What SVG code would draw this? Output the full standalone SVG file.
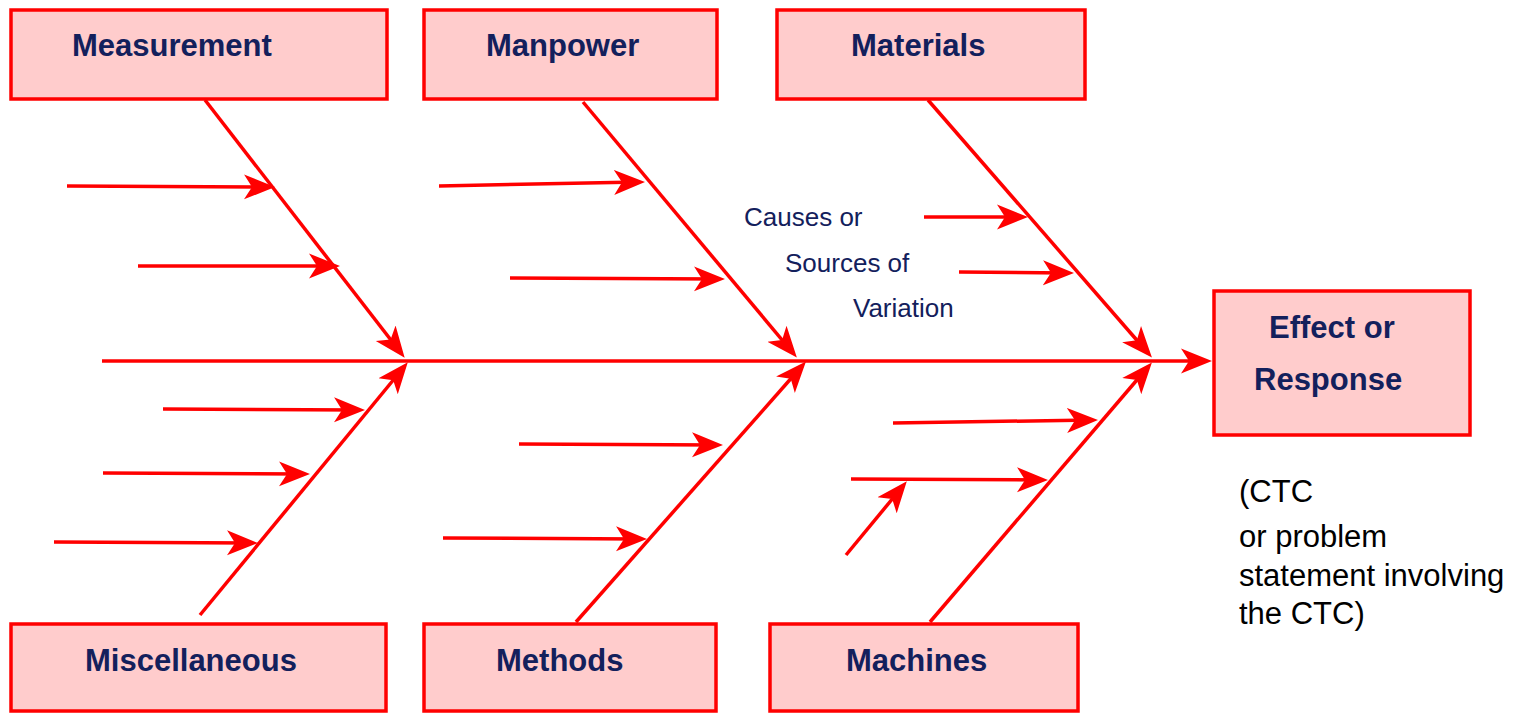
<svg xmlns="http://www.w3.org/2000/svg" width="1516" height="713" viewBox="0 0 1516 713">
<style>
.box{fill:#FFCCCC;stroke:#FF0000;stroke-width:3.5}
.lbl{font-family:"Liberation Sans",Arial,sans-serif;font-weight:bold;font-size:31px;fill:#13205C}
.txt{font-family:"Liberation Sans",Arial,sans-serif;font-size:31px;fill:#000}
.cause{font-family:"Liberation Sans",Arial,sans-serif;font-size:26px;fill:#13205C}
.ln{stroke:#FF0000;stroke-width:3.5;fill:none}
.ar{marker-end:url(#ah)}
</style>
<defs>
<marker id="ah" markerUnits="userSpaceOnUse" markerWidth="34" markerHeight="28" refX="25" refY="14" orient="auto">
<path d="M31,14 L0,1.5 L8,14 L0,26.5 z" fill="#FF0000"/>
</marker>
</defs>
<rect width="1516" height="713" fill="#FFFFFF"/>
<g id="measurement"><rect class="box" x="11" y="10" width="376" height="89"/><text class="lbl" x="72" y="56">Measurement</text></g>
<g id="manpower"><rect class="box" x="424" y="10" width="293" height="89"/><text class="lbl" x="486" y="56">Manpower</text></g>
<g id="materials"><rect class="box" x="777" y="10" width="308" height="89"/><text class="lbl" x="851" y="56">Materials</text></g>
<g id="miscellaneous"><rect class="box" x="11" y="624" width="375" height="87"/><text class="lbl" x="85" y="671">Miscellaneous</text></g>
<g id="methods"><rect class="box" x="424" y="624" width="292" height="87"/><text class="lbl" x="496" y="671">Methods</text></g>
<g id="machines"><rect class="box" x="770" y="624" width="308" height="87"/><text class="lbl" x="846" y="671">Machines</text></g>
<g id="effect"><rect class="box" x="1214" y="291" width="256" height="144"/><text class="lbl" x="1269" y="338">Effect or</text><text class="lbl" x="1254" y="390">Response</text></g>
<g id="causes-label"><text class="cause" x="744" y="226">Causes or</text><text class="cause" x="785" y="272">Sources of</text><text class="cause" x="853" y="317">Variation</text></g>
<g id="ctc-note"><text class="txt" x="1239" y="502">(CTC</text><text class="txt" x="1239" y="547">or problem</text><text class="txt" x="1239" y="586">statement involving</text><text class="txt" x="1239" y="624">the CTC)</text></g>
<g id="connectors">
<line class="ln" x1="102" y1="361" x2="1150" y2="361"/>
<line class="ln ar" x1="1150" y1="361" x2="1206" y2="361"/>
<line class="ln ar" x1="205" y1="100" x2="401" y2="353"/>
<line class="ln ar" x1="200" y1="615" x2="404" y2="367"/>
<line class="ln ar" x1="583" y1="102" x2="793" y2="353"/>
<line class="ln ar" x1="576" y1="622" x2="802" y2="366"/>
<line class="ln ar" x1="928" y1="100" x2="1148" y2="353"/>
<line class="ln ar" x1="930" y1="622" x2="1148" y2="367"/>
<line class="ln ar" x1="67" y1="186" x2="269" y2="187"/>
<line class="ln ar" x1="138" y1="266" x2="334" y2="266"/>
<line class="ln ar" x1="163" y1="409" x2="359" y2="410"/>
<line class="ln ar" x1="103" y1="473" x2="304" y2="474"/>
<line class="ln ar" x1="54" y1="542" x2="252" y2="543"/>
<line class="ln ar" x1="439" y1="186" x2="639" y2="182"/>
<line class="ln ar" x1="510" y1="278" x2="719" y2="279"/>
<line class="ln ar" x1="519" y1="444" x2="717" y2="445"/>
<line class="ln ar" x1="443" y1="538" x2="641" y2="539"/>
<line class="ln ar" x1="924" y1="217" x2="1022" y2="217"/>
<line class="ln ar" x1="959" y1="272" x2="1068" y2="273"/>
<line class="ln ar" x1="893" y1="423" x2="1092" y2="420"/>
<line class="ln ar" x1="851" y1="479" x2="1042" y2="480"/>
<line class="ln ar" x1="846" y1="555" x2="903" y2="486"/>
</g>
</svg>
